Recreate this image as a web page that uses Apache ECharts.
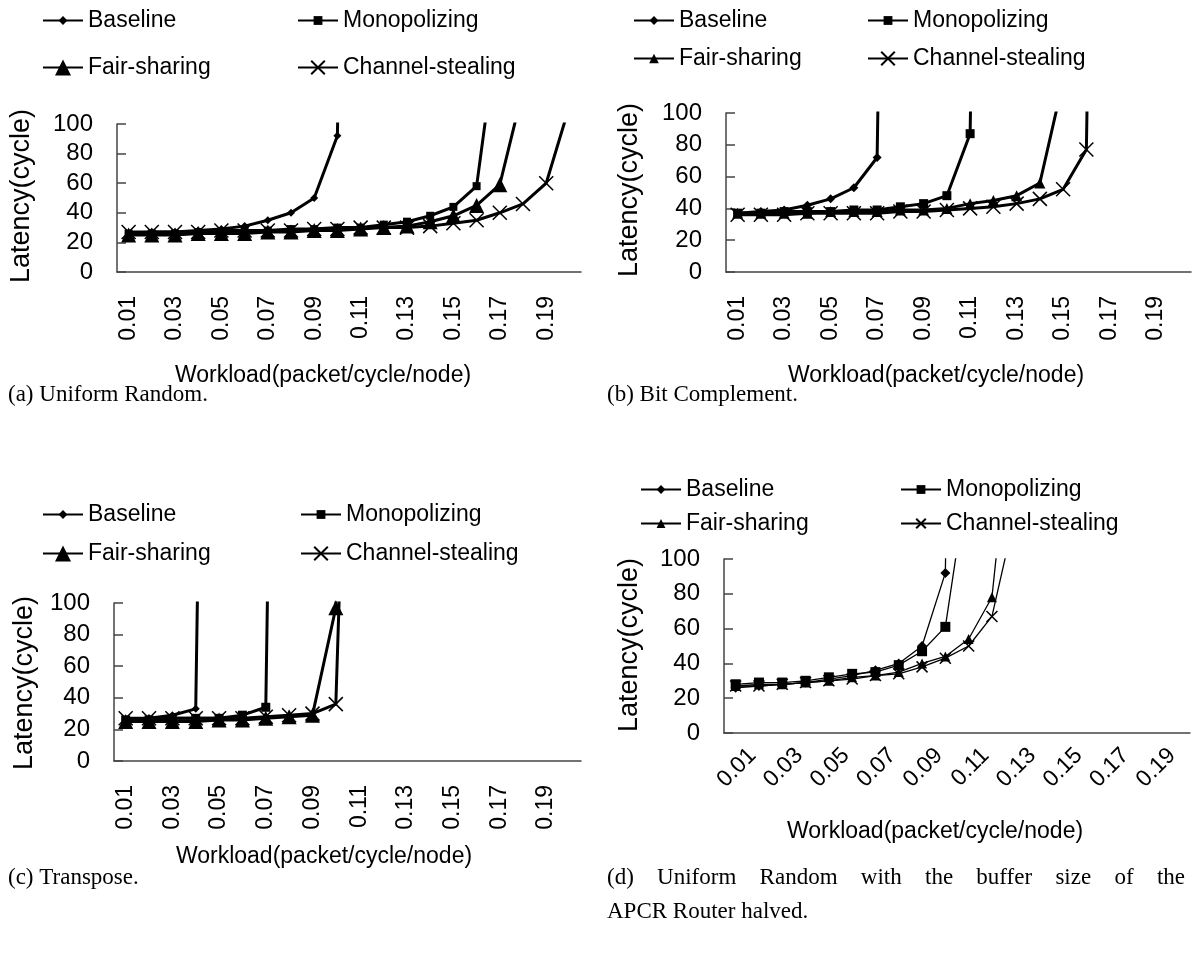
<!DOCTYPE html>
<html>
<head>
<meta charset="utf-8">
<script src="https://cdn.jsdelivr.net/npm/echarts@6/dist/echarts.min.js"></script>
<style>
  html, body { margin: 0; padding: 0; background: #fff; }
  #chart { width: 1195px; height: 954px; }
</style>
</head>
<body>
<div id="chart"></div>
<script>
// workload categories (packet/cycle/node)
var categories = ['0.01', '0.02', '0.03', '0.04', '0.05', '0.06', '0.07', '0.08', '0.09', '0.10',
  '0.11', '0.12', '0.13', '0.14', '0.15', '0.16', '0.17', '0.18', '0.19', '0.20']
var yTicks = [0, 20, 40, 60, 80, 100]

// (a) Uniform Random
var baseA = [26, 27, 27, 28, 29, 31, 35, 40, 50, 92, 1000]
var monoA = [26, 26, 26, 27, 27, 28, 28, 29, 29, 30, 30, 32, 34, 38, 44, 58, 175]
var fairA = [25, 25, 25, 26, 26, 26, 27, 27, 28, 28, 29, 30, 31, 34, 38, 45, 59, 123]
var chanA = [27, 27, 27, 27, 28, 28, 28, 28, 29, 29, 30, 30, 30, 31, 33, 35, 40, 46, 60, 112]

// (b) Bit Complement
var baseB = [37, 38, 39, 42, 46, 53, 72, 1000]
var monoB = [37, 37, 38, 38, 38, 39, 39, 41, 43, 48, 87, 1000]
var fairB = [37, 37, 37, 37, 38, 38, 38, 39, 39, 40, 43, 45, 48, 56, 120]
var chanB = [36, 36, 36, 37, 37, 37, 37, 38, 38, 39, 40, 41, 43, 46, 52, 77, 1000]

// (c) Transpose
var baseC = [26, 27, 29, 33, 1000]
var monoC = [26, 26, 27, 27, 27, 29, 34, 1000]
var fairC = [25, 25, 25, 25, 26, 26, 27, 28, 29, 97, 1000]
var chanC = [27, 27, 27, 27, 27, 27, 28, 29, 30, 36, 500]

// (d) Uniform Random, APCR buffer halved
var baseD = [26, 27, 28, 29, 31, 33, 36, 40, 50, 92, 1000]
var monoD = [28, 29, 29, 30, 32, 34, 35, 39, 47, 61, 150]
var fairD = [27, 28, 28, 29, 30, 32, 33, 35, 40, 44, 54, 78, 206]
var chanD = [27, 27, 28, 29, 30, 31, 33, 34, 38, 43, 50, 67, 126]

var seriesNames = ['Baseline', 'Monopolizing', 'Fair-sharing', 'Channel-stealing']
var captions = ['(a) Uniform Random.', '(b) Bit Complement.', '(c) Transpose.',
  '(d) Uniform Random with the buffer size of the', 'APCR Router halved.']

const SANS = "'Liberation Sans', Arial, sans-serif"
const SERIF = "'Liberation Serif', 'Times New Roman', serif"
const XMARK = 'path://M0,0L10,10M10,0L0,10'

// panel layout
const panels = [
  { id: 'a', grid: { left: 117, top: 124, width: 464, height: 148 }, rotate: 90, lw: 3,
    data: [baseA, monoA, fairA, chanA], sizes: [8, 8, 15, 14], legSizes: [11, 11, 20, 17],
    legX: [42, 297], legY: [19, 66], xName: [323, 376], yName: [22, 196] },
  { id: 'b', grid: { left: 726, top: 113, width: 465, height: 159 }, rotate: 90, lw: 3,
    data: [baseB, monoB, fairB, chanB], sizes: [9, 9, 11, 14], legSizes: [11, 11, 12, 17],
    legX: [633, 867], legY: [19, 57], xName: [936, 376], yName: [630, 190] },
  { id: 'c', grid: { left: 114, top: 603, width: 467, height: 158 }, rotate: 90, lw: 3,
    data: [baseC, monoC, fairC, chanC], sizes: [8, 9, 15, 14], legSizes: [11, 11, 20, 17],
    legX: [42, 300], legY: [513, 552], xName: [324, 857], yName: [25, 683] },
  { id: 'd', grid: { left: 724, top: 559, width: 466, height: 174 }, rotate: 45, lw: 1.3,
    data: [baseD, monoD, fairD, chanD], sizes: [10, 10, 10, 11], legSizes: [11, 11, 11, 12],
    legX: [640, 900], legY: [488, 522], xName: [935, 832], yName: [630, 645] }
]
const symbols = ['diamond', 'rect', 'triangle', XMARK]

const myChart = echarts.init(document.getElementById('chart'))

var grids = [], xAxes = [], yAxes = [], series = [], legends = [], graphics = []

panels.forEach(function(p, pi) {
  grids.push(p.grid)
  var xLabel = {
    // every label kept, odd ones blanked, so nothing gets auto-hidden
    interval: 0,
    formatter: function(v, idx) { return idx % 2 === 0 ? v : '' },
    rotate: p.rotate, margin: 24,
    color: '#000', fontSize: 23, fontFamily: SANS
  }
  if (p.rotate === 45) {
    // push the slanted labels down-right, like the spreadsheet does
    xLabel.margin = 2
    xLabel.verticalAlign = 'top'
    xLabel.lineHeight = 48
  }
  xAxes.push({
    type: 'category',
    gridIndex: pi,
    data: categories,
    boundaryGap: true,
    axisLine: { lineStyle: { color: '#444', width: 1.5 } },
    axisTick: { inside: true, length: 9, interval: 0, lineStyle: { color: '#444', width: 1.5 } },
    axisLabel: xLabel,
    splitLine: { show: false }
  })
  yAxes.push({
    type: 'value',
    gridIndex: pi,
    min: yTicks[0],
    max: yTicks[yTicks.length - 1],
    interval: 20,
    axisLine: { show: true, lineStyle: { color: '#444', width: 1.5 } },
    axisTick: { show: true, inside: true, length: 9, lineStyle: { color: '#444', width: 1.5 } },
    axisLabel: { margin: 24, color: '#000', fontSize: 24, fontFamily: SANS },
    splitLine: { show: false }
  })

  seriesNames.forEach(function(name, si) {
    var isX = si === 3
    series.push({
      name: name + '#' + p.id,
      type: 'line',
      xAxisIndex: pi,
      yAxisIndex: pi,
      data: p.data[si],
      symbol: symbols[si],
      symbolSize: p.sizes[si],
      showAllSymbol: true,
      clip: true,
      animation: false,
      lineStyle: { color: '#000', width: p.lw },
      itemStyle: { color: '#000', borderColor: '#000', borderWidth: isX ? 1.5 : 0 },
      z: 2 + si
    })
    // one legend per item, laid out as two columns x two rows
    legends.push({
      data: [name + '#' + p.id],
      formatter: function(n) { return n.split('#')[0] },
      left: p.legX[si % 2],
      top: p.legY[Math.floor(si / 2)] - 10,
      padding: 0,
      itemWidth: 40,
      itemHeight: p.legSizes[si],
      selectedMode: false,
      textStyle: { color: '#000', fontSize: 23, fontFamily: SANS }
    })
  })

  // axis titles
  graphics.push({
    type: 'text', x: p.xName[0], y: p.xName[1],
    style: { text: 'Workload(packet/cycle/node)', fill: '#000', font: '23px ' + SANS, align: 'center', verticalAlign: 'middle' }
  })
  graphics.push({
    type: 'text', x: p.yName[0], y: p.yName[1], rotation: Math.PI / 2,
    style: { text: 'Latency(cycle)', fill: '#000', font: '27px ' + SANS, align: 'center', verticalAlign: 'middle' }
  })
})

// captions
var capFont = '23px ' + SERIF
var capPos = [[8, 395], [607, 395], [8, 878], [607, 878], [607, 912]]
var ctx = document.createElement('canvas').getContext('2d')
ctx.font = capFont
captions.forEach(function(c, i) {
  if (i === 3) {
    // justified first line of caption (d)
    var words = c.split(' ')
    var total = 0
    words.forEach(function(w) { total += ctx.measureText(w).width })
    var gap = (1185 - capPos[i][0] - total) / (words.length - 1)
    var x = capPos[i][0]
    words.forEach(function(w) {
      graphics.push({
        type: 'text', x: x, y: capPos[i][1],
        style: { text: w, fill: '#000', font: capFont, align: 'left', verticalAlign: 'middle' }
      })
      x += ctx.measureText(w).width + gap
    })
    return
  }
  graphics.push({
    type: 'text', x: capPos[i][0], y: capPos[i][1],
    style: { text: c, fill: '#000', font: capFont, align: 'left', verticalAlign: 'middle' }
  })
})

const option = {
  backgroundColor: '#fff',
  animation: false,
  grid: grids,
  xAxis: xAxes,
  yAxis: yAxes,
  legend: legends,
  graphic: graphics,
  series: series
}
myChart.setOption(option)
</script>
</body>
</html>
